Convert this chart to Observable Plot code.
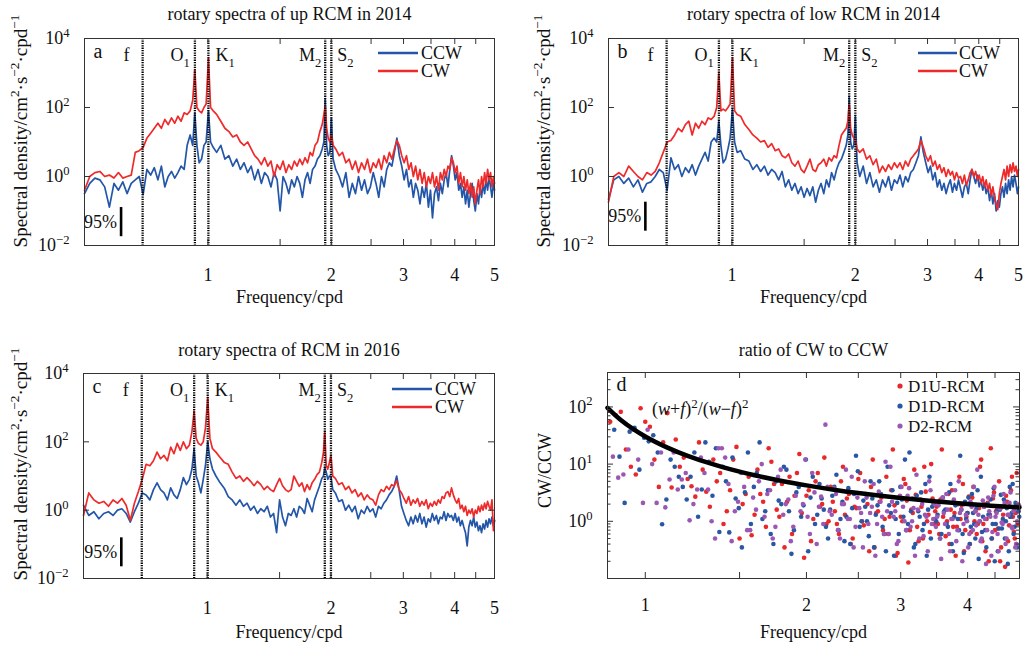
<!DOCTYPE html>
<html><head><meta charset="utf-8">
<script src="https://cdn.jsdelivr.net/npm/d3@7"></script>
<script src="https://cdn.jsdelivr.net/npm/@observablehq/plot@0.6"></script>
<style>
body{margin:0;background:#fff;}
#chart{position:relative;width:1024px;height:646px;overflow:hidden;background:#fff;}
.panel{position:absolute;}
</style></head><body><div id="chart"></div>
<script>
// ---------------- data ----------------
const specFreq = [0.50,0.515,0.53,0.545,0.56,0.575,0.59,0.605,0.62,0.635,0.65,0.665,0.68,0.695,0.71,0.725,0.74,0.755,0.77,0.785,0.80,0.815,0.83,0.845,0.86,0.875,0.89,
0.905,0.918,0.929,0.94,0.952,0.965,0.978,0.99,1.003,1.015,1.03,
1.05,1.075,1.10,1.125,1.15,1.175,1.20,1.225,1.25,1.275,1.30,1.325,1.35,1.375,1.40,1.425,1.45,1.475,1.50,1.525,1.55,1.575,1.60,1.625,1.65,1.675,1.70,1.725,1.75,1.775,1.80,1.825,1.85,1.875,
1.90,1.918,1.932,1.948,1.965,1.983,2.0,2.02,
2.05,2.09,2.13,2.17,2.21,2.25,2.29,2.33,2.37,2.41,2.45,2.49,2.53,2.57,2.61,2.65,2.69,2.73,2.77,2.81,2.85,2.89,2.93,2.97,3.01,3.05,3.09,3.13,3.17,3.21,3.25,3.29,3.33,3.37,3.41,3.45,3.49,3.53,3.57,3.61,3.65,3.69,3.73,3.77,3.81,3.85,3.89,3.93,3.97,4.01,4.05,4.09,4.13,4.17,4.21,4.25,4.29,4.33,4.37,4.41,4.45,4.49,4.53,4.57,4.61,4.65,4.69,4.73,4.77,4.81,4.85,4.89,4.93,4.97,5.0];

// (a) up RCM 2014
const upCCW = [0.32,0.63,0.9,0.8,0.5,0.13,0.63,0.4,0.7,0.32,0.63,0.8,1,0.3,1.6,1.1,1.8,0.8,2,0.5,1,1.4,0.9,1.3,2,1.6,8,
16,8,70,8,2.5,3.2,8,10,80,10,7,
5,8,3.2,4,2,3.2,1.6,2.5,1.3,2,0.8,1.6,0.63,1.3,1,0.5,1.3,0.8,0.1,1,0.63,0.32,0.8,0.5,1,0.63,0.25,0.8,1.3,0.63,1.6,2,3.2,4,
6.3,10,180,8,4,5,50,3.2,
1.6,1,0.5,1.3,0.25,0.63,0.32,1,0.4,0.8,0.32,0.5,1.3,0.63,0.25,1,0.5,1.6,2.5,2,5,13,4,2,0.8,1.6,0.5,0.8,0.25,0.63,0.4,0.16,0.5,0.25,0.63,0.13,0.4,0.063,0.32,0.5,0.2,0.63,0.32,0.8,1.3,0.5,1.6,4,2,0.8,1.3,0.4,0.63,0.25,0.5,0.16,0.4,0.13,0.32,0.63,0.2,0.1,0.32,0.16,0.5,0.25,0.63,0.32,0.8,0.4,1,0.5,0.25,0.63,0.4];
const upCW = [0.4,1,1.3,1.4,1,1.1,0.9,1.3,0.9,1,1.1,5,5.6,7,13,18,25,35,25,45,32,50,35,56,40,70,63,
80,160,1260,100,80,70,100,126,2800,100,80,
63,40,25,20,14,16,10,8,10,6.3,4,3.2,2.2,3.5,2,2.8,1,2.2,1.6,2.8,1.3,2.2,1.6,2.8,2,3.2,2.2,3.5,2.5,5,4,8,10,20,
32,63,110,25,13,10,16,8,
6.3,4,5,2.5,3.2,1.6,2.8,1.3,2.5,1.6,3.2,1.3,2.5,1.8,3.2,1.6,4,2.5,5,3.2,6.3,11,8,4,2.5,4,1.6,2.5,1,2,0.8,1.6,0.63,1.3,0.5,1,0.63,1.3,0.5,1,0.4,1.3,0.8,1.6,1,2,1.6,3.5,2.5,1.3,2,0.63,1.3,0.5,1,0.4,0.8,0.32,0.63,0.25,0.5,0.16,0.4,0.8,0.32,1,0.5,1.3,0.63,1.6,0.8,1.3,0.5,1,0.63];

// (b) low RCM 2014
const lowCCW = [0.22,0.8,1,0.63,0.9,0.5,0.8,0.35,0.63,0.7,1,1.6,1.3,0.4,3.5,1.6,2.2,1,1.8,1.3,2.2,1.1,2,3.2,5,2.8,10,
13,10,40,8,2.5,3.2,6.3,13,90,10,5,
5.6,3.2,2.8,1.6,2.2,1.4,2,1.1,1.6,1.3,0.8,1.4,0.5,0.8,0.4,0.63,0.32,0.5,0.25,0.45,0.28,0.5,0.18,0.4,0.63,0.32,0.8,0.5,1.3,0.8,1.6,2.5,3.2,5,
8,16,200,10,6.3,8,56,2.5,
1,2,0.63,1.3,0.5,0.8,0.35,0.8,0.5,1,0.4,0.8,0.63,1.1,0.5,1,0.7,1.3,1.6,2.5,4,14,5,2.5,1.3,2,0.8,1.3,0.5,0.8,0.4,0.63,0.32,0.56,0.8,0.35,0.63,0.4,0.8,0.45,0.25,0.5,0.63,0.32,0.8,1.6,1,0.63,1.1,0.5,0.8,0.4,0.63,0.32,0.5,0.2,0.4,0.16,0.32,0.1,0.2,0.13,0.32,0.5,0.25,0.63,0.32,0.8,0.4,1,0.5,1.1,0.63,0.32,0.5];
const lowCW = [0.18,1,1.3,1,2,1.4,1,0.8,1.3,1.1,1.4,2.5,5,10,11,16,25,20,32,40,16,35,25,40,32,50,45,
56,100,1000,80,90,80,100,126,2800,80,63,
56,32,23,16,13,10,11,7,9,5.6,6.3,4,3.5,4.5,2.5,2,2.8,1.6,1.3,2,3.2,1.6,1.4,2.2,2.5,3.2,2,3.5,2.8,4,3.5,8,16,20,
25,40,126,25,16,13,11,6.3,
5,6.3,3.2,4,2.2,3.2,1.3,2,1.4,2.2,1.6,2.5,1.8,2.5,1.6,2.8,2,3.2,4,5,6.3,11,7,4,2.8,4,2,2.8,1.6,2.2,1.3,1.8,1,1.6,1.1,1.4,0.8,1.3,0.9,1,0.63,1.1,0.56,0.8,1.3,1.6,1,1.4,0.8,1.1,0.63,1,0.5,0.8,0.4,0.63,0.28,0.5,0.25,0.16,0.11,0.32,0.63,1,1.6,0.8,2,1,2.2,1.3,2.5,1.4,2,1,1.6];

// (c) RCM 2016
const rcm16CCW = [1.4,0.7,0.9,0.56,0.8,0.9,0.7,1,1.1,0.8,0.45,0.9,1.6,3.2,2.8,2,4,6.3,4,3.2,2,4.5,2.8,2.2,4,9,5.6,
8,16,63,10,6.3,3.2,8,20,100,32,16,
10,6.3,4.4,2.5,2,1.4,2,1.3,1.6,1,1.3,0.8,1.1,0.9,1.3,0.63,0.8,0.22,2,0.63,0.35,0.8,0.7,1.1,0.63,1.3,1.1,0.8,2.2,1.4,0.9,2,3.2,5,
8.5,10,18,13,8,10,10,4,
3.2,1.8,2,1,1.4,0.9,1.3,0.56,1,0.8,1.3,0.9,1.1,0.63,1.3,1.1,1.6,2,2.8,3.5,5,10,4,1.3,0.8,0.5,0.35,0.63,0.4,0.7,0.45,0.8,0.4,0.63,0.32,0.56,0.45,0.8,0.5,0.7,0.4,0.63,0.56,0.9,0.5,0.8,0.63,0.7,0.5,0.8,0.45,0.63,0.35,0.5,0.32,0.22,0.09,0.32,0.5,0.35,0.63,0.32,0.45,0.25,0.35,0.22,0.4,0.28,0.5,0.32,0.56,0.4,0.63,0.35,0.5];
const rcm16CW = [0.7,3.2,2,1.6,1.8,1.3,2,1.6,2.2,1.4,0.5,1.6,3.5,8,22,20,28,50,32,40,28,70,45,90,56,100,63,
80,200,800,126,90,80,100,250,2000,126,63,
50,35,25,22,13,8.5,10,7,9,7,5.2,7,5.6,4,5,4,3.5,5.6,8.5,5.2,4,3.5,4,10,7,5,6.3,3.5,5.6,4,6.3,8,11,13,
25,50,200,20,16,25,40,10,
8.5,5.6,6.3,4,5,3.2,4,2.5,3.2,2,2.8,2.2,2,1.4,2.8,4,3.5,5,4,5.6,5,7.4,4,3.2,2.2,1.6,2.5,1.4,2,1.6,2.2,1.3,1.8,1.4,2,1.1,1.6,1.3,1.8,1.4,2,1.6,2.5,2.2,3.2,3.5,2.5,4.5,2.8,2,1.6,2.2,1.1,1.4,0.9,1.3,0.7,1,0.8,1.1,0.63,1,0.8,1.3,0.9,1.4,1,1.6,1.1,1.8,1.3,1,2,0.25,0.5];

const seriesNames = ["CCW", "CW"];
const tidalFreq = [0.693, 0.9295, 1.0027, 1.9323, 2.0];
const tidalName = ["f", "O_{1}", "K_{1}", "M_{2}", "S_{2}"];
// 95% confidence bars (a, b, c)
const ciFreq = [0.614, 0.615, 0.618];
const ciLow = [0.018, 0.026, 0.022];
const ciHigh = [0.126, 0.18, 0.155];

// (d) ratio CW/CCW
const scatterNames = ["D1U-RCM", "D1D-RCM", "D2-RCM"];
const d1uFreq = [0.86,0.90,0.94,0.98,1.02,1.06,1.10,1.14,1.18,1.22,1.26,1.30,1.34,1.38,1.42,1.46,1.50,1.54,1.58,1.62,1.66,1.70,1.74,1.78,1.82,1.86,1.90,1.94,1.98,2.02,2.06,2.10,2.14,2.18,2.22,2.26,2.30,2.34,2.38,2.42,2.46,2.50,2.54,2.58,2.62,2.66,2.70,2.74,2.78,2.82,2.86,2.90,2.94,2.98,3.02,3.06,3.10,3.14,3.18,3.22,3.26,3.30,3.34,3.38,3.42,3.46,3.50,3.54,3.58,3.62,3.66,3.70,3.74,3.78,3.82,3.86,3.90,3.94,3.98,4.02,4.06,4.10,4.14,4.18,4.22,4.26,4.30,4.34,4.38,4.42,4.46,4.50,4.54,4.58,4.62,4.66,4.70,4.74,4.78,4.82,4.86,4.90,4.94,4.98,
0.88,0.92,0.96,1.00,1.04,1.08,1.12,1.16,1.20,1.24,1.28,1.32,1.36,1.40,1.44,1.48,1.52,1.56,1.60,1.64,1.68,1.72,1.76,1.80,1.84,1.88,1.92,1.96,2.00,2.04,2.08,2.12,2.16,2.20,2.24,2.28,2.32,2.36,2.40,2.44,2.48,2.52,2.56,2.60,2.64,2.68,2.72,2.76,2.80,2.84,2.88,2.92,2.96,3.00,3.04,3.08,3.12,3.16,3.20,3.24,3.28,3.32,3.36,3.40,3.44,3.48,3.52,3.56,3.60,3.64,3.68,3.72,3.76,3.80,3.84,3.88,3.92,3.96,4.00,4.04,4.08,4.12,4.16,4.20,4.24,4.28,4.32,4.36,4.40,4.44,4.48,4.52,4.56,4.60,4.64,4.68,4.72,4.76,4.80,4.84,4.88,4.92,4.96];
const d1uRatio = [55,82,9,95,45,4,78,27,13,
4.1,24,3.3,12,7,1.5,12,0.5,3,0.57,
8,2.2,19,4.5,1.2,0.35,6,2.8,15,0.23,3.5,1.1,7,2,0.9,
4,1.5,0.6,9,2.5,0.4,1.8,5.5,1,3,0.3,12,1.4,2.2,0.7,6,1.2,18,0.25,2.6,1,4.5,0.19,1.6,8,0.8,2.4,0.5,3.3,1.3,10,0.9,
1.8,0.6,18,2.2,1,0.4,3.5,1.4,0.8,6,1.9,0.3,1.2,2.7,0.65,4,1.5,0.9,9,0.45,2,1.1,0.2,19,2.5,0.7,1.6,5,0.35,1.3,0.16,2.2,0.85,3.5,1.2,0.5,7,1.5,
72,18,6.6,55,12,24,3.9,9,5.5,
2.7,8,1.8,5,0.9,3.5,20,2,6,1.3,
3,0.8,11,1.6,4.5,2.2,0.6,7,1.4,2.8,0.45,5,1.8,13,1,
2.2,0.9,5,1.3,3,0.5,1.7,7,0.85,2,4,0.35,1.5,2.6,1.1,0.6,3.5,1.9,0.28,1.2,5.5,2.3,0.7,1.4,2.9,0.45,1.8,9,1,0.65,2.5,1.5,
0.9,2.4,1.2,0.55,3,1.6,0.8,0.25,2,1.1,4.5,0.7,1.4,0.4,2.6,1,0.6,1.7,12,0.9,0.3,2.1,1.3,0.5,3.2,1.5,0.75,0.2,1.8,1,2.8,0.45,1.2,6,0.65,1.4,0.9];
const d1dFreq = [0.875,0.915,0.955,0.995,1.035,1.075,1.115,1.155,1.195,1.235,1.275,1.315,1.355,1.395,1.435,1.475,1.515,1.555,1.595,1.635,1.675,1.715,1.755,1.795,1.835,1.875,1.915,1.955,1.995,2.035,2.075,2.115,2.155,2.195,2.235,2.275,2.315,2.355,2.395,2.435,2.475,2.515,2.555,2.595,2.635,2.675,2.715,2.755,2.795,2.835,2.875,2.915,2.955,2.995,3.035,3.075,3.115,3.155,3.195,3.235,3.275,3.315,3.355,3.395,3.435,3.475,3.515,3.555,3.595,3.635,3.675,3.715,3.755,3.795,3.835,3.875,3.915,3.955,3.995,4.035,4.075,4.115,4.155,4.195,4.235,4.275,4.315,4.355,4.395,4.435,4.475,4.515,4.555,4.595,4.635,4.675,4.715,4.755,4.795,4.835,4.875,4.915,4.955,4.995,
0.895,0.935,0.975,1.015,1.055,1.095,1.135,1.175,1.215,1.255,1.295,1.335,1.375,1.415,1.455,1.495,1.535,1.575,1.615,1.655,1.695,1.735,1.775,1.815,1.855,1.895,1.935,1.975,2.015,2.055,2.095,2.135,2.175,2.215,2.255,2.295,2.335,2.375,2.415,2.455,2.495,2.535,2.575,2.615,2.655,2.695,2.735,2.775,2.815,2.855,2.895,2.935,2.975,3.015,3.055,3.095,3.135,3.175,3.215,3.255,3.295,3.335,3.375,3.415,3.455,3.495,3.535,3.575,3.615,3.655,3.695,3.735,3.775,3.815,3.855,3.895,3.935,3.975,4.015,4.055,4.095,4.135,4.175,4.215,4.255,4.295,4.335,4.375,4.415,4.455,4.495,4.535,4.575,4.615,4.655,4.695,4.735,4.775,4.815,4.855,4.895,4.935,4.975];
const d1dRatio = [40,2.1,43,29,32,0.89,12,6,2.4,
16,3.6,11,19,9,0.64,2.5,0.35,16,4,
24,1.5,0.6,5,2,8,0.27,3.2,1.2,12,2.6,0.9,4.5,1.6,0.5,
2.8,6.5,1.1,0.45,3.8,1.7,14,0.8,2.3,1,5,0.35,1.9,3,0.6,9,1.4,0.25,2.1,4,1.2,0.7,16,2.5,0.4,1.5,3.2,0.9,0.25,6,1.8,1.1,
1.3,0.5,2.6,1.6,0.8,4.5,0.3,1.9,1.1,14,0.6,2.2,1.4,0.4,3,0.9,1.7,0.22,6,1.2,0.7,2,1.3,0.5,3.8,0.9,0.3,1.6,0.75,2.4,1,0.18,4,1.4,0.6,2.1,0.35,1.2,
13.5,37,8,25,16,2.4,9,4,
6,1.2,24,2.8,0.65,5,13,1.7,3.2,0.9,
7,1.1,3.5,0.4,2.3,9,1.5,0.7,4,1.9,0.3,6,1.3,2.5,0.8,
1.6,4,0.7,2.2,1.2,0.4,3,7.5,1,1.8,0.55,2.5,1.3,5,0.8,0.3,1.9,3.5,1.1,0.6,2.4,12,0.9,1.5,0.35,2.8,1.2,0.7,4.5,1.6,0.5,2,
1,2.2,0.6,1.5,0.9,3.2,0.4,1.2,2,0.7,1.6,0.28,1.1,2.6,0.8,1.4,0.5,3.5,1,0.65,1.8,0.35,1.3,2.4,0.9,0.2,1.5,0.75,2.9,1.1,0.5,1.7,0.3,1.2,4.5,0.8,0.4,1.5];
const d2Freq = [0.89,0.93,0.97,1.01,1.05,1.09,1.13,1.17,1.21,1.25,1.29,1.33,1.37,1.41,1.45,1.49,1.53,1.57,1.61,1.65,1.69,1.73,1.77,1.81,1.85,1.89,1.93,1.97,2.01,2.05,2.09,2.13,2.17,2.21,2.25,2.29,2.33,2.37,2.41,2.45,2.49,2.53,2.57,2.61,2.65,2.69,2.73,2.77,2.81,2.85,2.89,2.93,2.97,3.01,3.05,3.09,3.13,3.17,3.21,3.25,3.29,3.33,3.37,3.41,3.45,3.49,3.53,3.57,3.61,3.65,3.69,3.73,3.77,3.81,3.85,3.89,3.93,3.97,4.01,4.05,4.09,4.13,4.17,4.21,4.25,4.29,4.33,4.37,4.41,4.45,4.49,4.53,4.57,4.61,4.65,4.69,4.73,4.77,4.81,4.85,4.89,4.93,4.97,
0.87,0.91,0.95,0.99,1.03,1.07,1.11,1.15,1.19,1.23,1.27,1.31,1.35,1.39,1.43,1.47,1.51,1.55,1.59,1.63,1.67,1.71,1.75,1.79,1.83,1.87,1.91,1.95,1.99,2.03,2.07,2.11,2.15,2.19,2.23,2.27,2.31,2.35,2.39,2.43,2.47,2.51,2.55,2.59,2.63,2.67,2.71,2.75,2.79,2.83,2.87,2.91,2.95,2.99,3.03,3.07,3.11,3.15,3.19,3.23,3.27,3.31,3.35,3.39,3.43,3.47,3.51,3.55,3.59,3.63,3.67,3.71,3.75,3.79,3.83,3.87,3.91,3.95,3.99,4.03,4.07,4.11,4.15,4.19,4.23,4.27,4.31,4.35,4.39,4.43,4.47,4.51,4.55,4.59,4.63,4.67,4.71,4.75,4.79,4.83,4.87,4.91,4.95,4.99];
const d2Ratio = [5.8,18,12,40,2.1,1.75,16,5.4,
1.04,3.6,7,1,19,13,0.45,2.2,4,0.7,
1.6,10,3,0.5,6,1.3,2.4,0.8,4.5,2,1.2,7,0.4,2.7,49,
1.5,3.8,0.7,2,8,1.1,0.35,2.6,1.4,5,0.9,1.8,0.25,3.3,1.2,11,0.6,2.2,1.5,0.45,4,1,2.8,0.8,1.7,6.5,0.5,2,1.3,0.3,3.5,1.1,
0.8,1.9,0.22,1.4,3,0.6,1.1,2.4,0.45,5,1.6,0.9,1.3,0.35,2.2,0.7,1.5,8,1,0.5,1.8,0.18,2.6,1.2,0.65,4,1.4,0.3,1.7,0.9,2.1,0.5,1.3,3.2,0.75,1.6,0.4,2,
13.5,6.6,40,2.1,10,16,5.4,3.6,7,
2,13,3.6,0.5,19,4.5,1.5,7,0.7,2.6,
5,1.2,3.5,0.8,8,2,0.45,2.8,1.5,12,0.6,3.2,1.8,0.9,4,
1.3,3,0.5,2,1.1,6,0.8,1.7,0.35,2.6,1.4,4.5,0.9,2.2,0.6,1.5,9,1.2,0.4,2.8,1.8,0.7,3.8,1,0.25,1.6,2.4,0.55,1.2,5,0.9,2,
1.2,0.5,2.6,0.9,1.6,0.3,1.1,3.5,0.7,1.4,0.2,2,1,0.6,1.8,4,0.85,1.3,0.45,2.3,1.1,0.7,1.5,0.25,2.8,1.2,0.6,1.7,0.95,3,0.4,1.3,2.1,0.8,1.5,0.35,1,1.9];
// theoretical curve (w+f)^2/(w-f)^2
const curveFreq = [0.85,0.9,0.95,1.0,1.1,1.2,1.3,1.4,1.5,1.6,1.8,2.0,2.25,2.5,2.75,3.0,3.5,4.0,4.5,5.0];
const curveRatio = [96.6,59.2,40.9,30.4,19.4,13.9,10.8,8.76,7.38,6.39,5.07,4.25,3.57,3.12,2.80,2.56,2.23,2.01,1.85,1.75];

const panelTitles = ["rotary spectra of up RCM in 2014", "rotary spectra of low RCM in 2014", "rotary spectra of RCM in 2016", "ratio of CW to CCW"];
const specXTicks = [1, 1.5, 2, 2.5, 3, 3.5, 4, 4.5];
const specXLabels = [1, 2, 3, 4, 5];
const specYTicks = [1e-2, 1, 1e2, 1e4];
const ratioXLabels = [1, 2, 3, 4];
const ratioYTicks = [1, 10, 100];
const ratioYMinor = [0.2,0.3,0.4,0.5,0.6,0.7,0.8,0.9,2,3,4,5,6,7,8,9,20,30,40,50,60,70,80,90,200,300];

// sanity checks
for (const [k, a] of Object.entries({upCCW, upCW, lowCCW, lowCW, rcm16CCW, rcm16CW}))
  if (a.length !== specFreq.length) throw new Error(k + " has " + a.length + " values, expected " + specFreq.length);
for (const [k, a, b] of [["d1u", d1uFreq, d1uRatio], ["d1d", d1dFreq, d1dRatio], ["d2", d2Freq, d2Ratio]])
  if (a.length !== b.length) throw new Error(k + " freq " + a.length + " vs ratio " + b.length);

// ---------------- style ----------------
const FONT = '"Liberation Serif", "Times New Roman", serif';
const BLUE = "#2356a8", RED = "#ee2a2a";
const DOT_RED = "#e8282b", DOT_BLUE = "#2a57a4", DOT_PURPLE = "#9b58b3";
const AXIS = "#333";
const SPEC_YLABEL = "Spectral density/cm^{2}·s^{−2}·cpd^{−1}";

function pow10Label(d) {
  const e = Math.round(Math.log10(d));
  return "10^{" + (e < 0 ? "−" + (-e) : String(e)) + "}";
}
const labelDx = [-13, -5, 7, -4, 6];

function spectraPanel(p) {
  const W = 512, H = 323;
  const fw = W - p.ml - p.mr, fh = H - p.mt - p.mb;
  const ccw = specFreq.map((f, i) => ({f, v: p.ccw[i]}));
  const cw = specFreq.map((f, i) => ({f, v: p.cw[i]}));
  const k = p.ci;
  return Plot.plot({
    width: W, height: H,
    marginTop: p.mt, marginRight: p.mr, marginBottom: p.mb, marginLeft: p.ml,
    x: {type: "log", domain: [0.5, 5]},
    y: {type: "log", domain: [1e-2, 1e4]},
    style: {fontFamily: FONT, fontSize: "18px", color: "#111", background: "transparent", overflow: "visible"},
    marks: [
      Plot.line(ccw, {x: "f", y: "v", stroke: BLUE, strokeWidth: 1.7}),
      Plot.line(cw, {x: "f", y: "v", stroke: RED, strokeWidth: 1.7}),
      Plot.ruleX(tidalFreq, {x: d => d, stroke: "#000", strokeWidth: 2.3, strokeDasharray: "1.3,1.1"}),
      ...tidalName.map((n, i) => Plot.text([n], {x: () => tidalFreq[i], frameAnchor: "top", dy: 17, dx: labelDx[i],
        textAnchor: labelDx[i] < 0 ? "end" : "start", lineAnchor: "middle", text: d => d})),
      Plot.ruleX([0], {x: () => ciFreq[k], y1: () => ciLow[k], y2: () => ciHigh[k], stroke: "#000", strokeWidth: 2.6}),
      Plot.text(["95%"], {x: () => ciFreq[k], y: () => Math.sqrt(ciLow[k] * ciHigh[k]), text: d => d, textAnchor: "end", dx: -4}),
      Plot.frame({stroke: AXIS}),
      Plot.tickX(specXTicks, {x: d => d, insetTop: fh - 6, stroke: AXIS}),
      Plot.tickX(specXTicks, {x: d => d, insetBottom: fh - 6, stroke: AXIS}),
      Plot.tickY([1, 1e2], {y: d => d, insetRight: fw - 6, stroke: AXIS}),
      Plot.tickY([1, 1e2], {y: d => d, insetLeft: fw - 6, stroke: AXIS}),
      Plot.axisX({ticks: specXLabels, tickSize: 0, tickPadding: 23, tickFormat: d => String(d), label: null}),
      Plot.axisY({ticks: specYTicks, tickSize: 0, tickPadding: 15, tickFormat: pow10Label, label: null}),
      Plot.text([p.title], {frameAnchor: "top", lineAnchor: "middle", dy: p.titleDy, text: d => d, fontSize: 18}),
      Plot.text(["Frequency/cpd"], {frameAnchor: "bottom", lineAnchor: "middle", dy: p.xlabDy, text: d => d, fontSize: 18}),
      Plot.text([SPEC_YLABEL], {frameAnchor: "left", textAnchor: "middle", lineAnchor: "middle", rotate: -90, dx: p.ylabDx, dy: p.ylabDy, text: d => d, fontSize: 19}),
      Plot.text([p.letter], {frameAnchor: "top-left", lineAnchor: "middle", dx: 9, dy: 13, text: d => d, textAnchor: "start", fontSize: 20})
    ]
  });
}

function ratioPanel() {
  const W = 512, H = 323, ml = 95, mr = 5, mt = 49, mb = 68;
  const fw = W - ml - mr, fh = H - mt - mb;
  const series = [[d1uFreq, d1uRatio, DOT_RED], [d1dFreq, d1dRatio, DOT_BLUE], [d2Freq, d2Ratio, DOT_PURPLE]];
  return Plot.plot({
    width: W, height: H, marginTop: mt, marginRight: mr, marginBottom: mb, marginLeft: ml,
    x: {type: "log", domain: [0.85, 5]},
    y: {type: "log", domain: [0.1, 400]},
    style: {fontFamily: FONT, fontSize: "18px", color: "#111", background: "transparent", overflow: "visible"},
    marks: [
      ...series.map(([fq, rt, c]) => Plot.dot(fq.map((f, i) => ({f, r: rt[i]})), {x: "f", y: "r", r: 2.3, fill: c})),
      Plot.line(curveFreq.map((f, i) => ({f, r: curveRatio[i]})), {x: "f", y: "r", stroke: "#000", strokeWidth: 4.5, curve: "monotone-x"}),
      Plot.frame({stroke: AXIS}),
      Plot.tickX(specXTicks, {x: d => d, insetTop: fh - 6, stroke: AXIS}),
      Plot.tickX(specXTicks, {x: d => d, insetBottom: fh - 6, stroke: AXIS}),
      Plot.tickY(ratioYTicks, {y: d => d, insetRight: fw - 6, stroke: AXIS}),
      Plot.tickY(ratioYTicks, {y: d => d, insetLeft: fw - 6, stroke: AXIS}),
      Plot.tickY(ratioYMinor, {y: d => d, insetRight: fw - 3.5, stroke: AXIS}),
      Plot.tickY(ratioYMinor, {y: d => d, insetLeft: fw - 3.5, stroke: AXIS}),
      Plot.axisX({ticks: ratioXLabels, tickSize: 0, tickPadding: 20, tickFormat: d => String(d), label: null}),
      Plot.axisY({ticks: ratioYTicks, tickSize: 0, tickPadding: 15, tickFormat: pow10Label, label: null}),
      Plot.text([panelTitles[3]], {frameAnchor: "top", lineAnchor: "middle", dy: -22, text: d => d, fontSize: 18}),
      Plot.text(["Frequency/cpd"], {frameAnchor: "bottom", lineAnchor: "middle", dy: 54, text: d => d, fontSize: 18}),
      Plot.text(["CW/CCW"], {frameAnchor: "left", textAnchor: "middle", lineAnchor: "middle", rotate: -90, dx: -62, dy: -5, text: d => d, fontSize: 18}),
      Plot.text(["d"], {frameAnchor: "top-left", lineAnchor: "middle", dx: 9, dy: 12, text: d => d, textAnchor: "start", fontSize: 20})
    ]
  });
}

// ---------------- helpers ----------------
const NS = "http://www.w3.org/2000/svg";
function svgEl(parent, tag, attrs, text) {
  const el = document.createElementNS(NS, tag);
  for (const a in attrs) el.setAttribute(a, attrs[a]);
  if (text != null) el.textContent = text;
  parent.appendChild(el);
  return el;
}
// turn "x^{2}" and "x_{1}" into real superscript / subscript tspans
function richify(root) {
  root.querySelectorAll("text").forEach(el => {
    if (el.childElementCount) return;
    const s = el.textContent;
    if (!/[\^_]\{/.test(s)) return;
    const fs = parseFloat(getComputedStyle(el).fontSize) || 18;
    el.textContent = "";
    let shift = 0, last = 0, m;
    const add = (txt, kind) => {
      const t = document.createElementNS(NS, "tspan");
      const target = kind === "^" ? -0.4 * fs : kind === "_" ? 0.3 * fs : 0;
      if (target !== shift) t.setAttribute("dy", (target - shift).toFixed(2));
      shift = target;
      if (kind) t.setAttribute("font-size", (0.7 * fs).toFixed(1) + "px");
      t.textContent = txt;
      el.appendChild(t);
    };
    const re = /([\^_])\{([^}]*)\}/g;
    while ((m = re.exec(s))) {
      if (m.index > last) add(s.slice(last, m.index), null);
      add(m[2], m[1]);
      last = re.lastIndex;
    }
    if (last < s.length) add(s.slice(last), null);
  });
}
function lineLegend(svg, x1, x2, y0, gap, tx) {
  const g = svgEl(svg, "g", {"font-family": FONT, "font-size": 18, fill: "#111", "text-anchor": "start"});
  seriesNames.forEach((n, i) => {
    const y = y0 + i * gap;
    svgEl(g, "line", {x1, x2, y1: y, y2: y, stroke: [BLUE, RED][i], "stroke-width": 2.6});
    svgEl(g, "text", {x: tx, y, dy: "0.34em", "text-anchor": "start"}, n);
  });
}
function dotLegend(svg, cx, y0, gap, tx) {
  const g = svgEl(svg, "g", {"font-family": FONT, "font-size": 17, fill: "#111", "text-anchor": "start"});
  scatterNames.forEach((n, i) => {
    const y = y0 + i * gap;
    svgEl(g, "circle", {cx, cy: y, r: 2.6, fill: [DOT_RED, DOT_BLUE, DOT_PURPLE][i]});
    svgEl(g, "text", {x: tx, y, dy: "0.34em", "text-anchor": "start"}, n);
  });
}
function formula(svg, x, y) {
  const t = svgEl(svg, "text", {x, y, dy: "0.34em", "font-family": FONT, "font-size": 18, fill: "#111", "text-anchor": "start"});
  const parts = [["(", 0], ["w", 1], ["+", 0], ["f", 1], [")", 0], ["2", 2], ["/(", 0], ["w", 1], ["−", 0], ["f", 1], [")", 0], ["2", 2]];
  let sup = false;
  parts.forEach(([s, kind]) => {
    const ts = svgEl(t, "tspan", {}, s);
    if (kind === 1) ts.setAttribute("font-style", "italic");
    if (kind === 2) { ts.setAttribute("dy", -7); ts.setAttribute("font-size", 13); sup = true; }
    else if (sup) { ts.setAttribute("dy", 7); sup = false; }
  });
}

// ---------------- build ----------------
const chart = document.getElementById("chart");
function place(node, left, top) {
  const div = document.createElement("div");
  div.className = "panel";
  div.style.left = left + "px";
  div.style.top = top + "px";
  div.appendChild(node);
  chart.appendChild(div);
  return node;
}
const pa = place(spectraPanel({ccw: upCCW, cw: upCW, ci: 0, letter: "a", title: panelTitles[0],
  ml: 84, mr: 18, mt: 38, mb: 78, titleDy: -24, xlabDy: 52, ylabDx: -64, ylabDy: -11}), 0, 0);
const pb = place(spectraPanel({ccw: lowCCW, cw: lowCW, ci: 1, letter: "b", title: panelTitles[1],
  ml: 96, mr: 6, mt: 38, mb: 78, titleDy: -24, xlabDy: 52, ylabDx: -65, ylabDy: -11}), 512, 0);
const pc = place(spectraPanel({ccw: rcm16CCW, cw: rcm16CW, ci: 2, letter: "c", title: panelTitles[2],
  ml: 83, mr: 18, mt: 50, mb: 68, titleDy: -23, xlabDy: 54, ylabDx: -63, ylabDy: -12}), 0, 323);
const pd = place(ratioPanel(), 512, 323);

[pa, pb, pc, pd].forEach(richify);
lineLegend(pa, 378, 418, 53, 18, 421);
lineLegend(pb, 406, 445, 53, 18, 447);
lineLegend(pc, 392, 432, 66, 18, 435);
dotLegend(pd, 388, 63, 20, 396);
formula(pd, 140, 86);
</script>
</body></html>
